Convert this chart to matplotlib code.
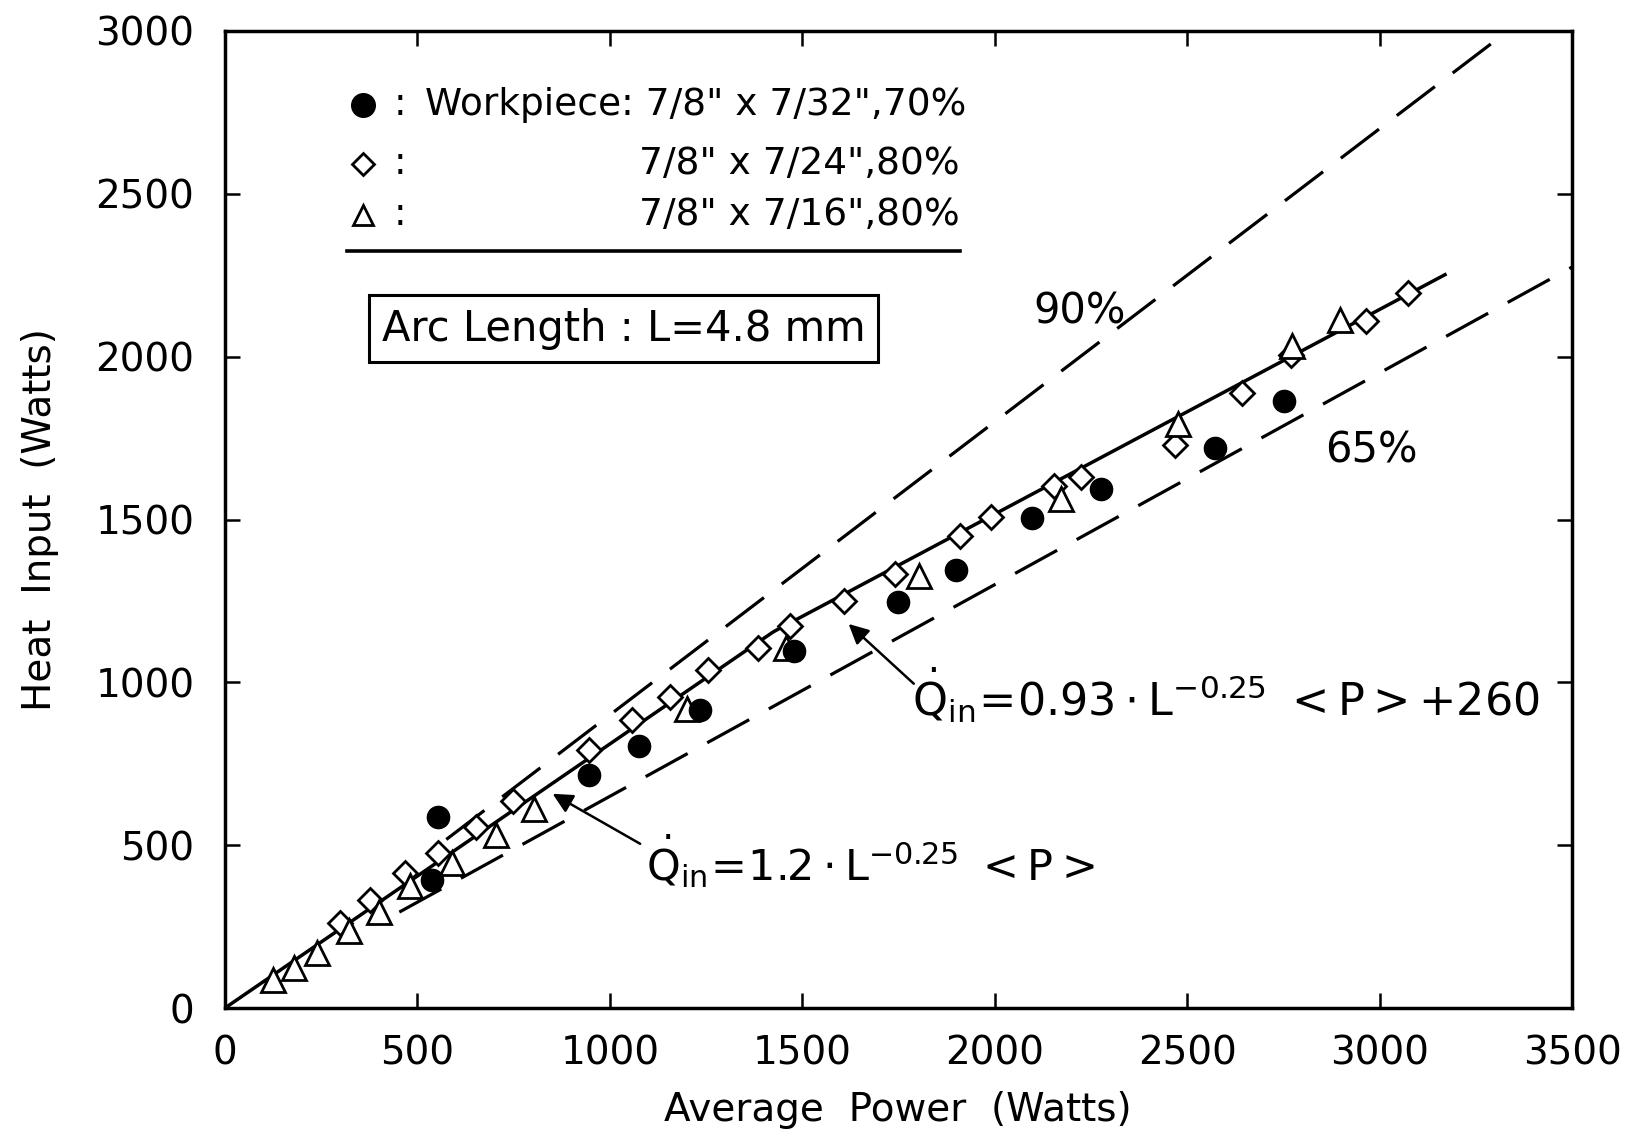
import numpy as np
import matplotlib.pyplot as plt

plt.rcParams['font.family'] = ['DejaVu Sans']
plt.rcParams['mathtext.fontset'] = 'dejavusans'

# measured points: average power (W) vs heat input (W)
circ_p = [537, 554, 946, 1075, 1234, 1479, 1748, 1899, 2096, 2275, 2572, 2751]
circ_q = [394, 586, 716, 805, 914, 1096, 1247, 1346, 1506, 1595, 1719, 1864]

diam_p = [300, 378, 468, 554, 653, 748, 946, 1058, 1157, 1256, 1385, 1467,
          1609, 1742, 1910, 1991, 2155, 2224, 2469, 2643, 2770, 2964, 3073]
diam_q = [261, 332, 416, 477, 556, 637, 792, 884, 956, 1038, 1105, 1173,
          1250, 1334, 1448, 1507, 1602, 1631, 1728, 1889, 2005, 2108, 2195]

tri_p = [124, 180, 240, 322, 399, 481, 589, 705, 804, 1200, 1458, 1802,
         2172, 2477, 2772, 2896]
tri_q = [87, 124, 168, 236, 296, 376, 446, 531, 610, 918, 1105, 1325,
         1564, 1792, 2034, 2114]

# fit: Q = 1.2 L^-0.25 P  (low power), Q = 0.93 L^-0.25 P + 260 (high power)
arc_len = 4.8
fit_low = 1.2
fit_high = 0.93
fit_offset = 260
fit_pmax = 3170

# efficiency bounds
eff_90 = 0.90
eff_90_range = [575, 3340]
eff_65 = 0.65
eff_65_range = [453, 3500]

xticks = [0, 500, 1000, 1500, 2000, 2500, 3000, 3500]
yticks = [0, 500, 1000, 1500, 2000, 2500, 3000]

fig = plt.figure(figsize=(16.46, 11.36), dpi=100)
W, H = 1646, 1136
left, right, top, bottom = 225, 1572, 31, 1008
ax = fig.add_axes([left / W, 1 - bottom / H, (right - left) / W, (bottom - top) / H])

# dashed efficiency lines
for eff, rng in [(eff_90, eff_90_range), (eff_65, eff_65_range)]:
    p = np.array(rng, dtype=float)
    ax.plot(p, eff * p, color='black', lw=2.3, ls=(0, (15, 7)), zorder=2)

# fitted curve
k = arc_len ** -0.25
p = np.linspace(0, fit_pmax, 400)
q = np.minimum(fit_low * k * p, fit_high * k * p + fit_offset)
ax.plot(p, q, color='black', lw=2.5, zorder=3)

# data markers
ax.plot(circ_p, circ_q, ls='none', marker='o', ms=16, mfc='black', mec='black', zorder=5)
ax.plot(diam_p, diam_q, ls='none', marker='D', ms=12.5, mfc='white', mec='black', mew=2, zorder=4)
ax.plot(tri_p, tri_q, ls='none', marker='^', ms=17, mfc='white', mec='black', mew=2, zorder=4)

ax.set_xlim(0, 3500)
ax.set_ylim(0, 3000)
ax.set_xticks(xticks)
ax.set_yticks(yticks)
ax.tick_params(direction='in', length=11, width=1.8, top=True, right=True,
               labelsize=28)
ax.tick_params(axis='x', pad=19)
ax.tick_params(axis='y', pad=22)
for s in ax.spines.values():
    s.set_linewidth(2.5)

fig.text(898 / W, 1 - 1110 / H, 'Average  Power  (Watts)', fontsize=28,
         ha='center', va='center')
fig.text(40 / W, 1 - 520 / H, 'Heat  Input  (Watts)', fontsize=28,
         ha='center', va='center', rotation=90)

# legend block
fs = 27
rows = [(2774, 'o', 'black', 'Workpiece: 7/8" x 7/32",70%'),
        (2591, 'D', 'white', '7/8" x 7/24",80%'),
        (2436, '^', 'white', '7/8" x 7/16",80%')]
for y, m, fc, label in rows:
    ms = {'o': 16, 'D': 11, '^': 15}[m]
    ax.plot([358], [y], marker=m, ms=ms, mfc=fc, mec='black', mew=2,
            clip_on=False, zorder=6)
    ax.text(455, y, ':', fontsize=fs, ha='center', va='center')
    if m == 'o':
        ax.text(520, y, label, fontsize=fs, ha='left', va='center')
    else:
        ax.text(1910, y, label, fontsize=fs, ha='right', va='center')
ax.plot([317, 1911], [2324, 2324], color='black', lw=2.6)

ax.text(1035, 2085, 'Arc Length : L=4.8 mm', fontsize=30, ha='center', va='center',
        bbox=dict(boxstyle='square,pad=0.3', fc='white', ec='black', lw=2.2))

ax.text(2220, 2140, '90%', fontsize=30, ha='center', va='center')
ax.text(2978, 1712, '65%', fontsize=30, ha='center', va='center')

ax.text(1785, 960,
        r'$\dot{\mathrm{Q}}_{\mathrm{in}}\!=\!0.93\cdot\mathrm{L}^{-0.25}\ <\mathrm{P}>+260$',
        fontsize=32, ha='left', va='center')
ax.text(1095, 450,
        r'$\dot{\mathrm{Q}}_{\mathrm{in}}\!=\!1.2\cdot\mathrm{L}^{-0.25}\ <\mathrm{P}>$',
        fontsize=31, ha='left', va='center')

arrow = dict(arrowstyle='-|>', lw=1.8, color='black', mutation_scale=30)
ax.annotate('', xy=(1615, 1185), xytext=(1795, 990), arrowprops=arrow)
ax.annotate('', xy=(845, 662), xytext=(1085, 500), arrowprops=arrow)

fig.savefig('out.png', dpi=100)
